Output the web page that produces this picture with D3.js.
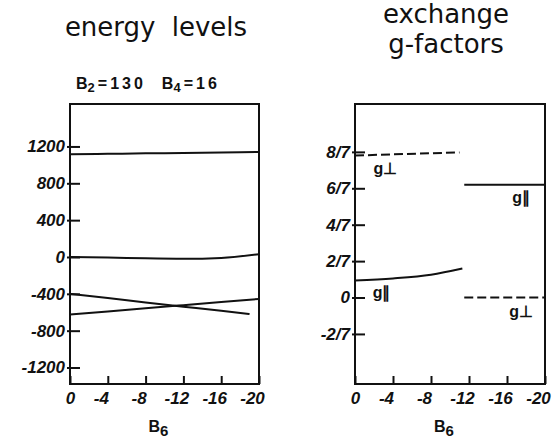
<!DOCTYPE html>
<html>
<head>
<meta charset="utf-8">
<script src="https://cdn.jsdelivr.net/npm/d3@7"></script>
<style>
  body { margin: 0; background: #fff; }
  svg { display: block; }
  .title { font-family: "DejaVu Sans", sans-serif; font-size: 26px; fill: #111; }
  .tick text, .lab { font-family: "Liberation Sans", Arial, sans-serif; font-weight: bold; font-style: italic; font-size: 17px; fill: #111; }
  .param { font-family: "Liberation Sans", Arial, sans-serif; font-weight: bold; font-size: 16px; fill: #111; }
  .curve { fill: none; stroke: #111; stroke-width: 2; }
</style>
</head>
<body>
<svg width="556" height="444"></svg>
<script>
// x axis (B6) shared by both panels
const b6Ticks = [0, -4, -8, -12, -16, -20];

// energy levels panel
const energyTicks = [1200, 800, 400, 0, -400, -800, -1200];
const levelB6 = [0, -4, -8, -12, -16, -20];
const level1 = [1115, 1120, 1125, 1130, 1135, 1140];
const level2 = [0, -5, -15, -20, -10, 30];
const level3B6 = [0, -4, -8, -12, -16, -19];
const level3 = [-400, -446, -493, -539, -585, -620];
const level4 = [-625, -591, -557, -523, -489, -455];

// exchange g-factor panel (values in sevenths)
const gTicks = [8, 6, 4, 2, 0, -2];
const gPerpLeftB6 = [0, -11];
const gPerpLeft = [7.8, 7.97];
const gParLeftB6 = [0, -4, -8, -11.3];
const gParLeft = [0.94, 1.05, 1.25, 1.59];
const gRightB6 = [-11.5, -20];
const gParRight = [6.2, 6.2];
const gPerpRight = [0.0, 0.0];

const svg = d3.select("svg");

// titles
svg.append("text").attr("class", "title").attr("x", 156).attr("y", 36)
  .attr("text-anchor", "middle").attr("word-spacing", 8).text("energy levels");
svg.append("text").attr("class", "title").attr("x", 446).attr("y", 23)
  .attr("text-anchor", "middle").text("exchange");
svg.append("text").attr("class", "title").attr("x", 446).attr("y", 53)
  .attr("text-anchor", "middle").text("g-factors");

// B2 / B4 parameters
const par = svg.append("text").attr("class", "param").attr("x", 76).attr("y", 89);
par.append("tspan").text("B");
par.append("tspan").attr("dy", 3).attr("font-size", 13).attr("letter-spacing", 3).text("2");
par.append("tspan").attr("dy", -3).attr("letter-spacing", 3).text("=130");
par.append("tspan").attr("dx", 16).text("B");
par.append("tspan").attr("dy", 3).attr("font-size", 13).attr("letter-spacing", 3).text("4");
par.append("tspan").attr("dy", -3).attr("letter-spacing", 3).text("=16");

function panel(opts) {
  const x = d3.scaleLinear().domain([0, -20]).range([opts.x0, opts.x1]);
  const y = d3.scaleLinear().domain(opts.ydom).range([384, 104]);
  const g = svg.append("g");

  // y axis
  const ya = g.append("g").attr("transform", `translate(${opts.x0},0)`)
    .call(d3.axisLeft(y).tickValues(opts.yTicks).tickSizeInner(-10).tickSizeOuter(0)
      .tickPadding(5).tickFormat(opts.fmt));
  ya.select(".domain").remove();
  ya.selectAll(".tick line").attr("x1", -3).attr("stroke", "#111").attr("stroke-width", 2);

  // x axis
  const xa = g.append("g").attr("transform", `translate(0,384)`)
    .call(d3.axisBottom(x).tickValues(b6Ticks).tickSizeInner(-8).tickSizeOuter(0)
      .tickPadding(8).tickFormat(d => d === 0 ? "0" : "-" + Math.abs(d)));
  xa.select(".domain").remove();
  xa.selectAll(".tick line").attr("stroke", "#111").attr("stroke-width", 2);
  xa.selectAll(".tick text").attr("font-size", 18).attr("dx", d => d === 0 ? 0 : -7);

  // frame
  g.append("rect").attr("x", opts.x0).attr("y", 104)
    .attr("width", opts.x1 - opts.x0).attr("height", 280)
    .attr("fill", "none").attr("stroke", "#111").attr("stroke-width", 2);

  // B6 label
  const bl = g.append("text").attr("class", "param").attr("x", (opts.x0 + opts.x1) / 2 - 6)
    .attr("y", 432).attr("font-size", 18).attr("text-anchor", "middle");
  bl.append("tspan").text("B");
  bl.append("tspan").attr("dy", 4).attr("font-size", 15).text("6");

  const line = d3.line().x(d => x(d[0])).y(d => y(d[1])).curve(d3.curveMonotoneX);
  opts.series.forEach(s => {
    g.append("path").attr("class", "curve")
      .attr("d", line(d3.zip(s.b6, s.v)))
      .attr("stroke-dasharray", s.dash || null);
  });
  return { g, x, y };
}

panel({
  x0: 70, x1: 259, ydom: [-1379, 1661], yTicks: energyTicks,
  fmt: d => d < 0 ? "-" + Math.abs(d) : String(d),
  series: [
    { b6: levelB6, v: level1 },
    { b6: levelB6, v: level2 },
    { b6: level3B6, v: level3 },
    { b6: levelB6, v: level4 }
  ]
});

const right = panel({
  x0: 355, x1: 545, ydom: [-4.75, 10.63], yTicks: gTicks,
  fmt: d => d === 0 ? "0" : (d < 0 ? "-" + Math.abs(d) : d) + "/7",
  series: [
    { b6: gPerpLeftB6, v: gPerpLeft, dash: "9,4" },
    { b6: gParLeftB6, v: gParLeft },
    { b6: gRightB6, v: gParRight },
    { b6: gRightB6, v: gPerpRight, dash: "9,4" }
  ]
});

// curve labels (g-perpendicular / g-parallel)
const gLabels = [
  { t: "g\u22A5", b6: -3.2, v: 6.8 },
  { t: "g\u2225", b6: -17.5, v: 5.2 },
  { t: "g\u2225", b6: -2.8, v: 0.0 },
  { t: "g\u22A5", b6: -17.5, v: -1.05 }
];
right.g.selectAll(".glab").data(gLabels).enter().append("text")
  .attr("class", "param glab").attr("font-size", 18)
  .attr("x", d => right.x(d.b6)).attr("y", d => right.y(d.v))
  .attr("text-anchor", "middle").text(d => d.t);
</script>
</body>
</html>
